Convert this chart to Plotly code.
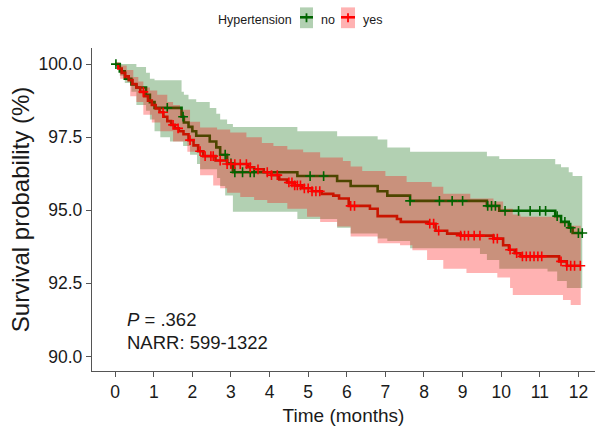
import numpy as np
import plotly.graph_objects as go

# ---------------- data ----------------
# Hypertension = no (green)
no_time = [0, 0.12, 0.25, 0.42, 0.55, 0.8, 0.9, 1.02, 1.72, 1.78, 1.9, 2.0, 2.1, 2.45, 2.62,
           2.72, 2.9, 3.05, 4.72, 5.75, 6.1, 6.8, 7.05, 7.64, 9.63, 9.95, 11.4, 11.55, 11.75, 11.85]
no_surv = [100, 99.75, 99.5, 99.3, 99.2, 98.95, 98.7, 98.5, 98.2, 98.0, 97.85, 97.7, 97.55, 97.35, 97.15,
           96.9, 96.6, 96.3, 96.17, 96.0, 95.83, 95.65, 95.5, 95.32, 95.15, 94.98, 94.8, 94.6, 94.4, 94.22]
no_end = 12.1

no_up_time = [0, 0.55, 0.8, 0.9, 1.02, 1.72, 1.78, 1.9, 2.1, 2.45, 2.62, 2.72, 2.9, 3.05, 4.72,
              5.75, 6.8, 7.05, 7.64, 9.63, 9.95, 11.4, 11.55, 11.75, 11.85]
no_up = [100, 99.9, 99.7, 99.5, 99.45, 99.05, 98.95, 98.8, 98.7, 98.5, 98.3, 98.1, 97.95, 97.85, 97.7,
         97.53, 97.42, 97.15, 97.0, 96.85, 96.75, 96.57, 96.47, 96.3, 96.17]

no_lo_time = [0, 0.12, 0.25, 0.42, 0.55, 0.8, 0.9, 1.02, 1.17, 1.42, 1.76, 1.94, 2.12, 2.2, 2.64,
              2.72, 2.85, 3.05, 4.72, 5.75, 6.1, 6.8, 7.05, 7.64, 9.45, 9.63, 9.95, 11.2, 11.45, 11.7]
no_lo = [100, 99.6, 99.35, 99.05, 98.6, 98.4, 98.1, 97.7, 97.5, 97.35, 97.2, 96.9, 96.58, 96.4, 96.1,
         95.83, 95.5, 94.95, 94.7, 94.4, 94.2, 94.03, 93.95, 93.7, 93.5, 93.3, 93.0, 92.9, 92.58, 92.34]

no_censor = [0.02, 1.35, 1.76, 2.85, 3.0, 3.1, 3.3, 3.5, 3.6, 5.05, 5.4, 7.64, 8.4, 8.73, 9.0,
             9.65, 9.75, 9.85, 10.1, 10.45, 10.75, 11.0, 11.15, 11.45, 11.65, 11.8, 12.0, 12.1]

# Hypertension = yes (red)
yes_time = [0, 0.08, 0.17, 0.26, 0.35, 0.45, 0.55, 0.65, 0.75, 0.85, 0.95, 1.05, 1.15, 1.25, 1.35,
            1.45, 1.55, 1.65, 1.77, 1.9, 2.03, 2.15, 2.28, 2.6, 2.9, 3.45, 3.6, 3.85, 4.05, 4.25,
            4.45, 4.65, 4.85, 5.1, 5.35, 5.65, 5.8, 6.05, 6.6, 6.8, 7.3, 7.4, 8.1, 8.3, 8.6,
            8.95, 9.8, 10.05, 10.2, 10.35, 10.5, 11.5, 11.7]
yes_surv = [100, 99.85, 99.7, 99.58, 99.45, 99.32, 99.2, 99.05, 98.9, 98.75, 98.6, 98.48, 98.35, 98.2, 98.05,
            97.92, 97.8, 97.7, 97.6, 97.4, 97.22, 97.02, 96.85, 96.7, 96.58, 96.47, 96.4, 96.3, 96.2, 96.05,
            95.95, 95.85, 95.75, 95.65, 95.56, 95.5, 95.4, 95.15, 95.05, 94.8, 94.7, 94.6, 94.54, 94.3, 94.2,
            94.13, 94.03, 93.8, 93.65, 93.53, 93.42, 93.25, 93.1]
yes_end = 12.06

yes_up_time = [0, 0.15, 0.3, 0.47, 0.6, 0.73, 0.9, 1.09, 1.35, 1.5, 1.68, 1.94, 2.2, 2.64, 2.98,
               3.4, 3.8, 4.1, 4.46, 4.87, 5.31, 5.9, 6.1, 6.4, 7.0, 7.55, 8.2, 8.5, 9.2, 9.8,
               10.05, 10.3, 10.5, 11.5, 11.7]
yes_up = [100, 99.95, 99.8, 99.56, 99.4, 99.2, 99.1, 98.95, 98.7, 98.6, 98.44, 98.03, 97.83, 97.76, 97.66,
          97.5, 97.3, 97.2, 97.08, 96.98, 96.8, 96.68, 96.5, 96.34, 96.17, 95.97, 95.8, 95.56, 95.4, 95.3,
          95.05, 94.85, 94.78, 94.6, 94.47]

yes_lo_time = [0, 0.13, 0.39, 0.55, 0.73, 0.95, 1.17, 1.5, 1.87, 2.2, 2.54, 2.72, 2.9, 3.24, 3.6,
               3.94, 4.46, 4.97, 5.31, 5.75, 6.1, 6.8, 7.38, 7.7, 8.08, 8.5, 9.1, 9.9, 10.23, 10.3,
               11.6, 11.8]
yes_lo = [100, 99.5, 98.9, 98.7, 98.27, 98.0, 97.7, 97.35, 97.0, 96.2, 95.85, 95.75, 95.6, 95.45, 95.35,
          95.25, 95.05, 94.78, 94.6, 94.44, 94.1, 93.87, 93.8, 93.63, 93.3, 93.0, 92.85, 92.7, 92.34, 92.1,
          91.93, 91.76]

yes_censor = [0.73, 1.24, 1.5, 1.63, 1.94, 2.2, 2.33, 2.48, 2.54, 2.72, 2.9, 3.0, 3.1, 3.24, 3.4,
              3.5, 3.7, 3.94, 4.05, 4.2, 4.5, 4.58, 4.65, 4.72, 4.8, 4.9, 5.0, 5.1, 5.2, 5.3,
              6.1, 6.2, 8.15, 8.25, 8.38, 8.95, 9.05, 9.15, 9.3, 9.45, 9.8, 9.9, 10.23, 10.4,
              10.55, 10.65, 10.75, 10.85, 10.95, 11.05, 11.55, 11.7, 11.8, 11.9, 12.05]

x_ticks = list(range(0, 13))
y_ticks = [90.0, 92.5, 95.0, 97.5, 100.0]
legend_title = "Hypertension"
group_labels = ["no", "yes"]
annot_lines = ["<i>P</i> = .362", "NARR: 599-1322"]

# ---------------- styling ----------------
GREEN = "#006400"
RED = "#FF0000"
GREEN_FILL = "rgba(0,100,0,0.3)"
RED_FILL = "rgba(255,0,0,0.3)"
FONT = "Liberation Sans, Arial, sans-serif"
TXT = "#1a1a1a"
AX = "#555555"


def extend(t, s, end):
    return list(t) + [end], list(s) + [s[-1]]


def step_at(t, s, q):
    t = np.asarray(t)
    s = np.asarray(s)
    idx = np.searchsorted(t, np.asarray(q), side="right") - 1
    return s[np.clip(idx, 0, len(s) - 1)]


fig = go.Figure()

# survival curves (drawn first; ribbons lie on top as in ggsurvplot)
for t, s, end, col in [(no_time, no_surv, no_end, GREEN), (yes_time, yes_surv, yes_end, RED)]:
    xx, yy = extend(t, s, end)
    fig.add_trace(go.Scatter(x=xx, y=yy, mode="lines", line=dict(color=col, width=2.6, shape="hv"),
                             hoverinfo="skip", showlegend=False))

# confidence ribbons
for ut, us, lt, ls, end, fc in [(no_up_time, no_up, no_lo_time, no_lo, no_end, GREEN_FILL),
                                 (yes_up_time, yes_up, yes_lo_time, yes_lo, yes_end, RED_FILL)]:
    ux, uy = extend(ut, us, end)
    lx, ly = extend(lt, ls, end)
    fig.add_trace(go.Scatter(x=ux, y=uy, mode="lines", line=dict(width=0, shape="hv"),
                             hoverinfo="skip", showlegend=False))
    fig.add_trace(go.Scatter(x=lx, y=ly, mode="lines", line=dict(width=0, shape="hv"),
                             fill="tonexty", fillcolor=fc, hoverinfo="skip", showlegend=False))

# censor marks
for t, s, cen, col in [(no_time, no_surv, no_censor, GREEN), (yes_time, yes_surv, yes_censor, RED)]:
    fig.add_trace(go.Scatter(x=cen, y=step_at(t, s, cen), mode="markers",
                             marker=dict(symbol="cross-thin", size=7, line=dict(width=1.6, color=col), color=col),
                             hoverinfo="skip", showlegend=False))

# annotation text
fig.add_annotation(x=0.26, y=91.25, xref="x", yref="y", text=annot_lines[0], showarrow=False,
                   xanchor="left", yanchor="middle", font=dict(family=FONT, size=18.5, color=TXT))
fig.add_annotation(x=0.26, y=90.47, xref="x", yref="y", text=annot_lines[1], showarrow=False,
                   xanchor="left", yanchor="middle", font=dict(family=FONT, size=18.5, color=TXT))

# ---------------- manual legend (top) ----------------
L, R, T, B = 92, 595, 48, 374


def px(x):
    return (x - L) / (R - L)


def py(y):
    return (B - y) / (B - T)


fig.add_annotation(x=px(294), y=py(19.5), xref="paper", yref="paper", text=legend_title, showarrow=False,
                   xanchor="right", yanchor="middle", font=dict(family=FONT, size=12.5, color=TXT))
for (bx0, bx1, tx, fc, col, lab) in [(300, 313, 319, GREEN_FILL, GREEN, group_labels[0]),
                                      (341, 355, 361, RED_FILL, RED, group_labels[1])]:
    fig.add_shape(type="rect", xref="paper", yref="paper", x0=px(bx0), x1=px(bx1), y0=py(28), y1=py(7),
                  fillcolor=fc, line=dict(width=0), layer="above")
    fig.add_shape(type="line", xref="paper", yref="paper", x0=px(bx0), x1=px(bx1), y0=py(17), y1=py(17),
                  line=dict(color=col, width=2.6), layer="above")
    cx = (bx0 + bx1) / 2
    fig.add_shape(type="line", xref="paper", yref="paper", x0=px(cx), x1=px(cx), y0=py(13), y1=py(22),
                  line=dict(color=col, width=1.8), layer="above")
    fig.add_annotation(x=px(tx), y=py(19.5), xref="paper", yref="paper", text=lab, showarrow=False,
                       xanchor="left", yanchor="middle", font=dict(family=FONT, size=12.5, color=TXT))

fig.update_layout(
    width=602, height=429,
    margin=dict(l=L, r=602 - R, t=T, b=429 - B),
    paper_bgcolor="white", plot_bgcolor="white",
    showlegend=False,
    font=dict(family=FONT, color=TXT),
)
fig.update_xaxes(range=[-0.6, 12.43], tickvals=x_ticks, showgrid=False, zeroline=False,
                 showline=True, linecolor=AX, linewidth=1.3, ticks="outside", ticklen=5,
                 tickwidth=1.3, tickcolor=AX, tickfont=dict(family=FONT, size=17.5, color=TXT),
                 title=dict(text="Time (months)", font=dict(family=FONT, size=19, color=TXT), standoff=7))
fig.update_yaxes(range=[89.5, 100.55], tickvals=y_ticks, tickformat=".1f", showgrid=False, zeroline=False,
                 showline=True, linecolor=AX, linewidth=1.3, ticks="outside", ticklen=5,
                 tickwidth=1.3, tickcolor=AX, tickfont=dict(family=FONT, size=17.5, color=TXT),
                 title=dict(text="Survival probability (%)", font=dict(family=FONT, size=24, color=TXT),
                            standoff=2))

fig.write_html("out.html")
